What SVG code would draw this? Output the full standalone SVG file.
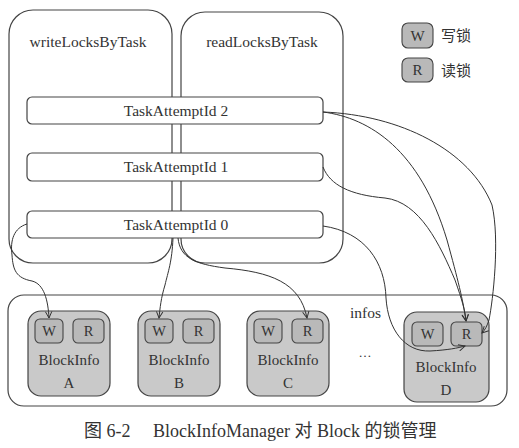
<svg xmlns="http://www.w3.org/2000/svg" width="519" height="448" viewBox="0 0 519 448">
<defs>
<style>
.big{fill:#fff;stroke:#444;stroke-width:1.2;}
.blk{fill:#c9c9c9;stroke:#444;stroke-width:1.2;}
.lk{fill:#b9b9b9;stroke:#444;stroke-width:1.1;}
.c{fill:none;stroke:#333;stroke-width:1;}
</style>
<marker id="ah" viewBox="0 0 10 10" refX="9" refY="5" markerWidth="8" markerHeight="8" orient="auto" markerUnits="userSpaceOnUse">
<path d="M1,1 L9,5 L1,9" fill="none" stroke="#333" stroke-width="1.2"/>
</marker>
</defs>
<rect width="519" height="448" fill="#fff"/>
<g font-family="Liberation Serif, serif" fill="#333">
<g id="writeLocksByTask">
<rect class="big" x="9" y="10" width="163" height="253" rx="24"/>
<text x="88" y="47" font-size="15.5" text-anchor="middle">writeLocksByTask</text>
</g>
<g id="readLocksByTask">
<rect class="big" x="181" y="12" width="162" height="251" rx="24"/>
<text x="262" y="47" font-size="15.5" text-anchor="middle">readLocksByTask</text>
</g>
<g id="legend">
<rect class="lk" x="402" y="23" width="31" height="25" rx="6"/>
<text x="417.5" y="41" font-size="15" text-anchor="middle">W</text>
<text x="441" y="41" font-size="15" font-family="Liberation Serif, Noto Sans CJK SC, serif">写锁</text>
<rect class="lk" x="402" y="58" width="31" height="24" rx="6"/>
<text x="417.5" y="75" font-size="15" text-anchor="middle">R</text>
<text x="441" y="76" font-size="15" font-family="Liberation Serif, Noto Sans CJK SC, serif">读锁</text>
</g>
<g id="infos">
<rect class="big" x="8" y="295" width="499" height="111" rx="16"/>
<text x="350" y="318" font-size="15.5">infos</text>
<text x="365" y="357" font-size="13" text-anchor="middle">…</text>
</g>
<g id="blockA">
<rect class="blk" x="28" y="311" width="82" height="85" rx="13"/>
<rect class="lk" x="35" y="319" width="28" height="24" rx="5"/>
<text x="49" y="336" font-size="14.5" text-anchor="middle">W</text>
<rect class="lk" x="73" y="319" width="31" height="24" rx="5"/>
<text x="88.5" y="336" font-size="14.5" text-anchor="middle">R</text>
<text x="69" y="365" font-size="15" text-anchor="middle">BlockInfo</text>
<text x="69" y="388" font-size="15" text-anchor="middle">A</text>
</g>
<g id="blockB">
<rect class="blk" x="138" y="311" width="82" height="85" rx="13"/>
<rect class="lk" x="145" y="319" width="28" height="24" rx="5"/>
<text x="159" y="336" font-size="14.5" text-anchor="middle">W</text>
<rect class="lk" x="183" y="319" width="31" height="24" rx="5"/>
<text x="198.5" y="336" font-size="14.5" text-anchor="middle">R</text>
<text x="179" y="365" font-size="15" text-anchor="middle">BlockInfo</text>
<text x="179" y="388" font-size="15" text-anchor="middle">B</text>
</g>
<g id="blockC">
<rect class="blk" x="247" y="311" width="82" height="85" rx="13"/>
<rect class="lk" x="254" y="319" width="28" height="24" rx="5"/>
<text x="268" y="336" font-size="14.5" text-anchor="middle">W</text>
<rect class="lk" x="292" y="319" width="31" height="24" rx="5"/>
<text x="307.5" y="336" font-size="14.5" text-anchor="middle">R</text>
<text x="288" y="365" font-size="15" text-anchor="middle">BlockInfo</text>
<text x="288" y="388" font-size="15" text-anchor="middle">C</text>
</g>
<g id="blockD">
<rect class="blk" x="404" y="312" width="85" height="90" rx="13"/>
<rect class="lk" x="412" y="322" width="31" height="24" rx="5"/>
<text x="427.5" y="339" font-size="14.5" text-anchor="middle">W</text>
<rect class="lk" x="451" y="322" width="31" height="24" rx="5"/>
<text x="466.5" y="339" font-size="14.5" text-anchor="middle">R</text>
<text x="446" y="372" font-size="15" text-anchor="middle">BlockInfo</text>
<text x="446" y="395" font-size="15" text-anchor="middle">D</text>
</g>
<g id="task2">
<rect class="big" x="27" y="97" width="296" height="27" rx="5"/>
<text x="176" y="116" font-size="15.5" text-anchor="middle">TaskAttemptId 2</text>
</g>
<g id="task1">
<rect class="big" x="27" y="153" width="296" height="28" rx="5"/>
<text x="176" y="172" font-size="15.5" text-anchor="middle">TaskAttemptId 1</text>
</g>
<g id="task0">
<rect class="big" x="27" y="211" width="296" height="27" rx="5"/>
<text x="176" y="230" font-size="15.5" text-anchor="middle">TaskAttemptId 0</text>
</g>
<text x="84" y="437" font-size="18" font-family="Liberation Serif, Noto Sans CJK SC, serif">图 6-2</text>
<text x="153" y="437" font-size="18" font-family="Liberation Serif, Noto Sans CJK SC, serif">BlockInfoManager 对 Block 的锁管理</text>
</g>
<g id="connectors">
<path class="c" marker-end="url(#ah)" d="M27,224 C14,228 10,240 12,255 C13,270 16,278 32,281 C44,284 48,300 49,318"/>
<path class="c" marker-end="url(#ah)" d="M173,238 C172,262 168,272 165,285 C161,298 160,308 159,318"/>
<path class="c" marker-end="url(#ah)" d="M178,238 C180,258 195,264 225,268 C270,272 300,282 307,318"/>
<path class="c" marker-end="url(#ah)" d="M323,226 C365,232 385,262 386,298 C388,330 405,352 430,351 C448,350 458,348 465,346"/>
<path class="c" marker-end="url(#ah)" d="M323,167 C330,185 350,195 385,198 C420,202 440,245 455,280 C462,300 465,310 466,321"/>
<path class="c" marker-end="url(#ah)" d="M323,112 C370,118 420,150 447,240 C458,280 463,300 466,321"/>
<path class="c" marker-end="url(#ah)" d="M323,112 C400,115 470,150 492,205 C500,240 493,300 489,320 C487,326 485,330 482,333"/>
</g>
</svg>
